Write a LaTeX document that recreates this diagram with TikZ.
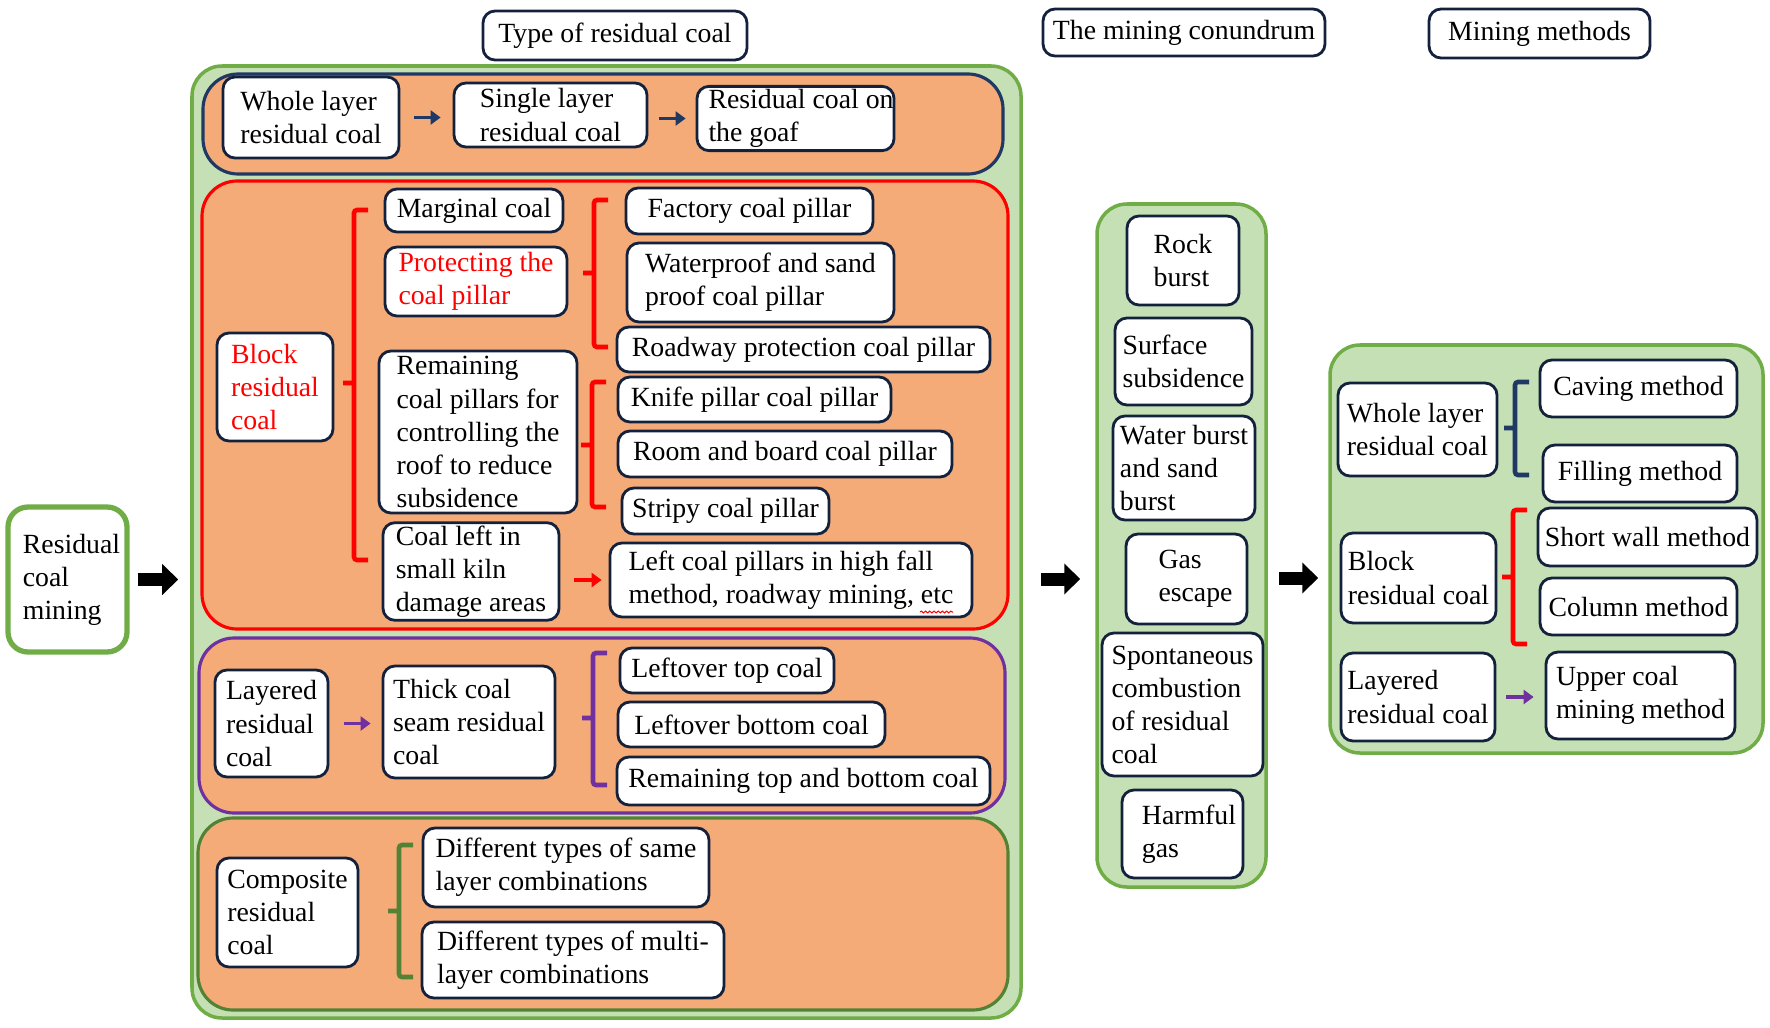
\documentclass[tikz,border=0pt]{standalone}
\usepackage{fontspec}
\setmainfont{Liberation Serif}
\usetikzlibrary{arrows.meta,decorations.pathmorphing}

\definecolor{panelgreen}{HTML}{C5E0B4}
\definecolor{framegreen}{HTML}{70AD47}
\definecolor{coalorange}{HTML}{F4AB78}
\definecolor{boxnavy}{HTML}{14213D}
\definecolor{layernavy}{HTML}{1F3864}
\definecolor{layerpurple}{HTML}{7030A0}
\definecolor{layergreen}{HTML}{548235}

\tikzset{
  coalbox/.style={font=\fontsize{7.9pt}{9.4pt}\selectfont, draw=boxnavy, line width=0.8pt,
    fill=white, rounded corners=0.12cm, align=left, inner xsep=0.05cm, inner ysep=0.03cm},
  sz/.style 2 args={minimum width=#1cm, minimum height=#2cm},
  panel/.style={draw=framegreen, fill=panelgreen, line width=1pt, rounded corners=0.3cm, inner sep=0pt},
  stratum/.style={draw=#1, fill=coalorange, line width=0.9pt, rounded corners=0.35cm, inner sep=0pt},
  bigarrow/.style={line width=0.13cm, -{Triangle[length=0.16cm, width=0.3cm]}},
  smallarrow/.style={draw=#1, fill=#1, line width=1.1pt, -{Triangle[length=0.1cm, width=0.14cm]}},
  brk/.style={draw=#1, line width=1.3pt, rounded corners=0.03cm},
}

\begin{document}
\begin{tikzpicture}[x=1cm, y=-1cm]
  \useasboundingbox (0,0) rectangle (17.70,10.28);

  % column headings
  \node[coalbox, sz={2.64}{0.49}] (typehd) at (6.15,0.355) {Type of residual coal};
  \node[coalbox, sz={2.82}{0.47}] (conhd) at (11.84,0.325) {The mining conundrum};
  \node[coalbox, sz={2.21}{0.49}] (methhd) at (15.395,0.335) {Mining methods};

  % panels
  \node[panel, sz={8.29}{9.52}] (typepanel) at (6.065,5.42) {};
  \node[panel, sz={1.69}{6.83}] (conpanel) at (11.815,5.455) {};
  \node[panel, sz={4.33}{4.08}] (methpanel) at (15.465,5.49) {};

  \node[stratum=layernavy, sz={8.0}{1.0}] (wholelayer) at (6.03,1.24) {};
  \node[stratum=red, sz={8.06}{4.48}] (blocklayer) at (6.05,4.05) {};
  \node[stratum=layerpurple, sz={8.06}{1.75}] (layeredlayer) at (6.02,7.255) {};
  \node[stratum=layergreen, sz={8.10}{1.92}] (complayer) at (6.03,9.14) {};

  % start
  \node[coalbox, draw=framegreen, line width=1.5pt, rounded corners=0.2cm, sz={1.19}{1.45}] (rcm) at (0.675,5.795)
    {\hspace*{0.08cm}Residual\\\hspace*{0.08cm}coal\\\hspace*{0.08cm}mining};

  % whole layer
  \node[coalbox, sz={1.76}{0.81}] (whole1) at (3.11,1.175) {Whole layer\\residual coal};
  \node[coalbox, sz={1.93}{0.64}] (single1) at (5.505,1.15) {Single layer\\residual coal};
  \node[coalbox, sz={1.97}{0.63}] (goaf) at (7.955,1.185) {\makebox[1.74cm][l]{Residual coal on}\\the goaf};

  % block
  \node[coalbox, text=red, sz={1.16}{1.08}] (block1) at (2.75,3.87) {Block\\residual\\coal};
  \node[coalbox, sz={1.78}{0.43}] (marginal) at (4.74,2.105) {Marginal coal};
  \node[coalbox, text=red, sz={1.82}{0.69}] (protect) at (4.76,2.815) {Protecting the\\coal pillar};
  \node[coalbox, sz={1.98}{1.62}] (remain) at (4.78,4.32) {Remaining\\coal pillars for\\controlling the\\roof to reduce\\subsidence};
  \node[coalbox, sz={1.76}{0.97}] (coalleft) at (4.71,5.715) {Coal left in\\small kiln\\damage areas};
  \node[coalbox, sz={2.47}{0.46}] (factory) at (7.495,2.11) {Factory coal pillar};
  \node[coalbox, sz={2.67}{0.79}] (waterproof) at (7.605,2.825) {Waterproof and sand\\proof coal pillar};
  \node[coalbox, sz={3.73}{0.45}] (roadway) at (8.035,3.495) {Roadway protection coal pillar};
  \node[coalbox, sz={2.73}{0.45}] (knife) at (7.545,3.995) {Knife pillar coal pillar};
  \node[coalbox, sz={3.34}{0.46}] (room) at (7.85,4.54) {Room and board coal pillar};
  \node[coalbox, sz={2.07}{0.46}] (stripy) at (7.255,5.11) {Stripy coal pillar};
  \node[coalbox, sz={3.62}{0.74}] (leftpil) at (7.91,5.80) {Left coal pillars in high fall\\method, roadway mining, etc};

  % layered
  \node[coalbox, sz={1.13}{1.07}] (layered1) at (2.715,7.235) {Layered\\residual\\coal};
  \node[coalbox, sz={1.72}{1.12}] (thick) at (4.69,7.22) {Thick coal\\seam residual\\coal};
  \node[coalbox, sz={2.14}{0.45}] (topcoal) at (7.27,6.705) {Leftover top coal};
  \node[coalbox, sz={2.67}{0.45}] (bottomcoal) at (7.515,7.245) {Leftover bottom coal};
  \node[coalbox, sz={3.73}{0.48}] (topbottom) at (8.035,7.81) {Remaining top and bottom coal};

  % composite
  \node[coalbox, sz={1.41}{1.09}] (composite) at (2.875,9.125) {Composite\\residual\\coal};
  \node[coalbox, sz={2.86}{0.79}] (samelayer) at (5.66,8.675) {Different types of same\\layer combinations};
  \node[coalbox, sz={3.02}{0.76}] (multilayer) at (5.73,9.60) {Different types of multi-\\layer combinations};

  % conundrum
  \node[coalbox, sz={1.12}{0.89}] (rock) at (11.83,2.605) {Rock\\burst};
  \node[coalbox, sz={1.37}{0.87}] (surface) at (11.835,3.615) {Surface\\subsidence};
  \node[coalbox, sz={1.42}{1.04}] (water) at (11.84,4.68) {Water burst\\and sand\\burst};
  \node[coalbox, sz={1.21}{0.90}] (gas) at (11.865,5.79) {\hspace*{0.18cm}Gas\\\hspace*{0.18cm}escape};
  \node[coalbox, sz={1.61}{1.43}] (spont) at (11.825,7.045) {Spontaneous\\combustion\\of residual\\coal};
  \node[coalbox, sz={1.21}{0.88}] (harmful) at (11.825,8.34) {\hspace*{0.13cm}Harmful\\\hspace*{0.13cm}gas};

  % methods
  \node[coalbox, sz={1.59}{0.93}] (whole2) at (14.175,4.295) {Whole layer\\residual coal};
  \node[coalbox, sz={1.97}{0.57}] (caving) at (16.385,3.885) {Caving method};
  \node[coalbox, sz={1.94}{0.57}] (filling) at (16.40,4.735) {Filling method};
  \node[coalbox, sz={1.55}{0.90}] (block2) at (14.185,5.78) {Block\\residual coal};
  \node[coalbox, sz={2.19}{0.58}] (shortwall) at (16.475,5.37) {Short wall method};
  \node[coalbox, sz={1.97}{0.57}] (column) at (16.385,6.065) {Column method};
  \node[coalbox, sz={1.54}{0.88}] (layered2) at (14.18,6.97) {Layered\\residual coal};
  \node[coalbox, sz={1.89}{0.87}] (upper) at (16.405,6.955) {Upper coal\\mining method};

  % brackets
  \foreach \bx/\btop/\bbot/\bmid/\bcol in {3.54/2.10/5.60/3.83/red, 5.94/2.00/3.47/2.73/red,
      5.92/3.82/5.07/4.45/red, 5.93/6.53/7.85/7.18/layerpurple, 3.99/8.45/9.77/9.11/layergreen,
      15.15/3.82/4.75/4.28/layernavy, 15.13/5.10/6.44/5.77/red}
    \draw[brk=\bcol] (\bx+0.14,\btop) -- (\bx,\btop) -- (\bx,\bbot) -- (\bx+0.14,\bbot)
      (\bx,\bmid) -- (\bx-0.11,\bmid);

  % arrows
  \draw[bigarrow] ([xshift=0.08cm]rcm.east) -- ([xshift=-0.12cm]rcm.east -| typepanel.west);
  \draw[bigarrow] ([xshift=0.18cm]typepanel.east |- gas) -- ([xshift=-0.15cm]conpanel.west |- gas);
  \draw[bigarrow] ([xshift=0.11cm]conpanel.east |- block2) -- ([xshift=-0.10cm]methpanel.west |- block2);

  \draw[smallarrow=layernavy] ([xshift=0.14cm]whole1.east) -- ([xshift=-0.12cm]whole1.east -| single1.west);
  \draw[smallarrow=layernavy] ([xshift=0.11cm]single1.east |- goaf.west) -- ([xshift=-0.10cm]goaf.west);
  \draw[smallarrow=red] ([xshift=0.14cm]coalleft.east |- leftpil.west) -- ([xshift=-0.07cm]leftpil.west);
  \draw[smallarrow=layerpurple] ([xshift=0.15cm]layered1.east) -- ([xshift=-0.11cm]layered1.east -| thick.west);
  \draw[smallarrow=layerpurple] ([xshift=0.10cm]layered2.east) -- ([xshift=-0.11cm]layered2.east -| upper.west);

  % spell check mark
  \draw[red, line width=0.3pt, decorate, decoration={snake, amplitude=0.25pt, segment length=1.2pt}]
    (9.20,6.12) -- (9.53,6.12);
\end{tikzpicture}
\end{document}
